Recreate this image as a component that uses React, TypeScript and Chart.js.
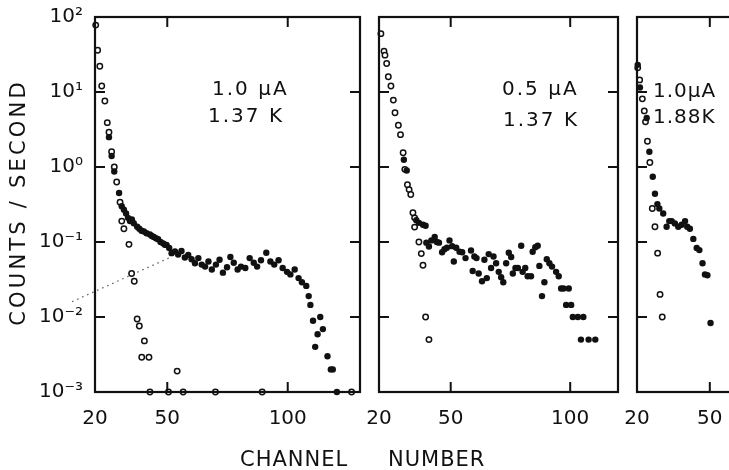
import React, { useEffect, useRef } from "react";
import { Chart, registerables } from "chart.js";

Chart.register(...registerables);

const FONT = "'DejaVu Sans', 'Liberation Sans', sans-serif";
const INK = "#111111";

// ---- axis ticks ----
const yTickExps = [-3, -2, -1, 0, 1, 2];
const yTickLabels = ["10⁻³", "10⁻²", "10⁻¹", "10⁰", "10¹", "10²"];
const xTickValues = [20, 50, 100];
const xInnerTicks = [50, 100];
const yAxisTitle = "COUNTS / SECOND";
const xAxisWords = ["CHANNEL", "NUMBER"];

// ---- panel 1 : 1.0 uA, 1.37 K ----
const p1Notes = ["1.0 μA", "1.37 K"];
const p1OpenCh = [20.3, 21.1, 22.0, 22.8, 24.1, 25.1, 25.8, 26.9, 28.0, 29.0, 30.4, 31.1, 32.0, 34.1, 35.2, 36.3, 37.5, 38.4, 39.4, 40.5, 42.4, 42.8, 50.5, 54.1, 56.6, 70.0, 89.4, 126.5];
const p1OpenRate = [78, 36, 22, 12, 7.6, 3.9, 2.9, 1.6, 1.0, 0.63, 0.34, 0.19, 0.15, 0.093, 0.038, 0.03, 0.0094, 0.0076, 0.0029, 0.0048, 0.0029, 0.001, 0.001, 0.0019, 0.001, 0.001, 0.001, 0.001];
const p1FilledCh = [25.8, 26.9, 28.0, 30.0, 31.1, 32.0, 32.9, 33.7, 34.5, 35.3, 36.1, 37.5, 38.4, 39.3, 40.3, 41.4, 42.8, 43.6, 44.4, 45.3, 46.2, 47.2, 48.3, 49.0, 49.7, 50.8, 51.8, 53.2, 54.5, 55.9, 57.3, 58.7, 60.1, 61.5, 62.9, 64.3, 65.7, 67.1, 68.5, 70.2, 71.7, 73.1, 74.8, 76.2, 77.6, 79.2, 80.6, 82.4, 84.2, 85.9, 87.3, 88.9, 91.1, 92.8, 94.4, 96.2, 97.9, 99.7, 101.1, 102.9, 104.5, 105.9, 107.7, 108.7, 109.4, 110.5, 111.4, 112.4, 113.5, 114.6, 116.5, 117.9, 118.7, 120.4];
const p1FilledRate = [2.5, 1.4, 0.87, 0.45, 0.3, 0.27, 0.24, 0.21, 0.19, 0.2, 0.178, 0.16, 0.15, 0.141, 0.138, 0.131, 0.126, 0.12, 0.117, 0.112, 0.109, 0.1, 0.096, 0.092, 0.091, 0.083, 0.071, 0.075, 0.068, 0.076, 0.062, 0.067, 0.059, 0.052, 0.061, 0.05, 0.047, 0.055, 0.043, 0.05, 0.058, 0.039, 0.046, 0.063, 0.053, 0.043, 0.047, 0.045, 0.061, 0.053, 0.047, 0.057, 0.072, 0.055, 0.05, 0.057, 0.045, 0.04, 0.037, 0.043, 0.033, 0.029, 0.026, 0.019, 0.0145, 0.0089, 0.004, 0.0059, 0.01, 0.0069, 0.003, 0.002, 0.002, 0.001];
const p1GuideCh = [10.5, 52];
const p1GuideRate = [0.016, 0.064];

// ---- panel 2 : 0.5 uA, 1.37 K ----
const p2Notes = ["0.5 μA", "1.37 K"];
const p2OpenCh = [20.8, 22.1, 22.5, 23.2, 23.9, 25.0, 26.0, 26.7, 28.1, 29.0, 30.1, 30.8, 31.9, 32.6, 33.3, 34.2, 34.9, 34.9, 36.7, 37.7, 38.4, 39.5, 40.9];
const p2OpenRate = [60, 35, 31, 24, 16, 12, 7.8, 5.3, 3.6, 2.7, 1.55, 0.93, 0.58, 0.5, 0.43, 0.245, 0.21, 0.158, 0.1, 0.07, 0.049, 0.01, 0.005];
const p2FilledCh = [30.4, 31.6, 35.6, 36.7, 38.4, 39.5, 39.8, 40.9, 41.9, 43.3, 44.2, 45.1, 46.4, 47.4, 48.4, 49.5, 50.6, 51.3, 52.3, 53.7, 54.8, 56.2, 58.5, 59.2, 59.9, 60.8, 61.7, 63.1, 64.1, 65.1, 65.9, 66.9, 67.9, 69.0, 70.1, 71.1, 72.0, 73.2, 74.3, 75.3, 76.0, 77.1, 78.1, 79.5, 80.1, 81.2, 82.2, 83.6, 84.3, 85.4, 86.4, 87.1, 88.2, 89.2, 90.2, 91.3, 92.4, 94.1, 95.2, 96.2, 97.2, 99.4, 98.3, 100.4, 101.1, 103.2, 105.5, 104.5, 107.7, 110.5];
const p2FilledRate = [1.25, 0.9, 0.195, 0.18, 0.17, 0.165, 0.098, 0.087, 0.105, 0.117, 0.1, 0.098, 0.073, 0.08, 0.084, 0.105, 0.088, 0.055, 0.084, 0.074, 0.073, 0.061, 0.077, 0.041, 0.064, 0.061, 0.038, 0.03, 0.058, 0.033, 0.069, 0.045, 0.064, 0.052, 0.04, 0.034, 0.029, 0.052, 0.072, 0.063, 0.038, 0.045, 0.045, 0.089, 0.04, 0.045, 0.035, 0.035, 0.074, 0.085, 0.089, 0.048, 0.019, 0.029, 0.059, 0.052, 0.047, 0.04, 0.035, 0.024, 0.024, 0.024, 0.0145, 0.0145, 0.01, 0.01, 0.01, 0.005, 0.005, 0.005];

// ---- panel 3 : 1.0 uA, 1.88 K ----
const p3Notes = ["1.0μA", "1.88K"];
const p3OpenCh = [20.3, 21.1, 22.2, 23.0, 23.5, 24.3, 25.3, 26.3, 27.4, 28.5, 29.5, 30.4];
const p3OpenRate = [21, 14.5, 8.1, 5.6, 4.0, 2.2, 1.15, 0.28, 0.16, 0.071, 0.02, 0.01];
const p3FilledCh = [20.3, 21.2, 24.0, 25.1, 26.5, 27.4, 28.4, 29.2, 30.8, 32.2, 33.3, 34.3, 35.6, 37.0, 38.4, 39.8, 40.7, 41.8, 43.2, 44.6, 45.7, 47.0, 48.0, 49.0, 50.3];
const p3FilledRate = [23, 11.5, 4.5, 1.6, 0.74, 0.44, 0.32, 0.28, 0.24, 0.16, 0.19, 0.19, 0.177, 0.16, 0.17, 0.19, 0.16, 0.15, 0.11, 0.083, 0.078, 0.052, 0.037, 0.036, 0.0083];

const zip = (xs: number[], ys: number[]) => xs.map((x, i) => ({ x, y: ys[i] }));

const framePlugin = {
  id: "frame",
  afterDatasetsDraw(chart: any, _args: any, opts: any) {
    const { ctx, chartArea: a, scales } = chart;
    const xs = scales.x;
    const ys = scales.y;
    const L = 10;
    ctx.save();
    ctx.strokeStyle = INK;
    ctx.lineWidth = 2.2;
    ctx.strokeRect(a.left, a.top, a.right - a.left, a.bottom - a.top);
    ctx.lineWidth = 2;
    ctx.beginPath();
    for (const e of yTickExps) {
      if (e === 2 || e === -3) continue;
      const py = ys.getPixelForValue(Math.pow(10, e));
      ctx.moveTo(a.left, py);
      ctx.lineTo(a.left + L, py);
      ctx.moveTo(a.right, py);
      ctx.lineTo(a.right - L, py);
    }
    for (const v of xInnerTicks) {
      if (v <= xs.min || v >= xs.max) continue;
      const px = xs.getPixelForValue(v);
      ctx.moveTo(px, a.top);
      ctx.lineTo(px, a.top + L);
      ctx.moveTo(px, a.bottom);
      ctx.lineTo(px, a.bottom - L);
    }
    ctx.stroke();
    ctx.fillStyle = INK;
    ctx.font = `20px ${FONT}`;
    ctx.textBaseline = "alphabetic";
    ctx.textAlign = "left";
    (ctx as any).letterSpacing = opts.spacing || "0px";
    for (const n of opts.notes || []) {
      ctx.fillText(n.text, a.left + n.dx, a.top + n.dy);
    }
    if (opts.yTitle) {
      ctx.font = `21px ${FONT}`;
      (ctx as any).letterSpacing = "3.2px";
      ctx.translate(20, (a.top + a.bottom) / 2 - 2);
      ctx.rotate(-Math.PI / 2);
      ctx.textAlign = "center";
      ctx.textBaseline = "middle";
      ctx.fillText(opts.yTitle, 0, 0);
    }
    ctx.restore();
  },
};

type PanelSpec = {
  left: number;
  top: number;
  width: number;
  height: number;
  padLeft: number;
  padRight: number;
  xMax: number;
  showY: boolean;
  open: { x: number; y: number }[];
  filled: { x: number; y: number }[];
  guide?: { x: number; y: number }[];
  notes: { text: string; dx: number; dy: number }[];
  spacing: string;
};

const panels: PanelSpec[] = [
  {
    left: 0, top: -7, width: 370, height: 477, padLeft: 0, padRight: 10, xMax: 130, showY: true,
    open: zip(p1OpenCh, p1OpenRate), filled: zip(p1FilledCh, p1FilledRate),
    guide: zip(p1GuideCh, p1GuideRate),
    notes: [{ text: p1Notes[0], dx: 117, dy: 78 }, { text: p1Notes[1], dx: 113, dy: 105 }],
    spacing: "2px",
  },
  {
    left: 350, top: 0, width: 275, height: 470, padLeft: 29, padRight: 7, xMax: 120, showY: false,
    open: zip(p2OpenCh, p2OpenRate), filled: zip(p2FilledCh, p2FilledRate),
    notes: [{ text: p2Notes[0], dx: 123, dy: 78 }, { text: p2Notes[1], dx: 124, dy: 109 }],
    spacing: "2px",
  },
  {
    left: 607, top: 0, width: 153, height: 470, padLeft: 30, padRight: 15, xMax: 64.5, showY: false,
    open: zip(p3OpenCh, p3OpenRate), filled: zip(p3FilledCh, p3FilledRate),
    notes: [{ text: p3Notes[0], dx: 16, dy: 80 }, { text: p3Notes[1], dx: 16, dy: 106 }],
    spacing: "1px",
  },
];

function Panel({ spec }: { spec: PanelSpec }) {
  const ref = useRef<HTMLCanvasElement | null>(null);
  useEffect(() => {
    if (!ref.current) return;
    const datasets: any[] = [
      {
        label: "filled",
        data: spec.filled,
        pointStyle: "circle",
        pointRadius: 3.2,
        pointBorderWidth: 0,
        pointBackgroundColor: INK,
        pointBorderColor: INK,
        showLine: false,
        clip: false,
      },
      {
        label: "open",
        data: spec.open,
        pointStyle: "circle",
        pointRadius: 2.7,
        pointBorderWidth: 1.5,
        pointBackgroundColor: "#ffffff",
        pointBorderColor: INK,
        showLine: false,
        clip: false,
      },
    ];
    if (spec.guide) {
      datasets.push({
        label: "guide",
        data: spec.guide,
        showLine: true,
        borderColor: "#555555",
        borderWidth: 1.2,
        borderDash: [1.5, 4],
        pointRadius: 0,
        clip: false,
      });
    }
    const yScale: any = {
      type: "logarithmic",
      min: 1e-3,
      max: 1e2,
      display: spec.showY,
      afterBuildTicks: (s: any) => {
        s.ticks = yTickExps.map((e) => ({ value: Math.pow(10, e) }));
      },
      grid: { display: false, drawTicks: false },
      border: { display: false },
      ticks: {
        font: { family: FONT, size: 20 },
        color: INK,
        padding: 12,
        callback: (_v: any, i: number) => yTickLabels[i],
      },
    };
    if (spec.showY) {
      yScale.afterFit = (s: any) => {
        s.width = 95;
      };
    }
    const chart = new Chart(ref.current, {
      type: "scatter",
      data: { datasets },
      plugins: [framePlugin],
      options: {
        responsive: false,
        animation: false,
        devicePixelRatio: 1,
        events: [],
        layout: { padding: { top: 17 - spec.top, left: spec.padLeft, right: spec.padRight, bottom: 0 } },
        plugins: {
          legend: { display: false },
          tooltip: { enabled: false },
          frame: { notes: spec.notes, spacing: spec.spacing, yTitle: spec.showY ? yAxisTitle : "" },
        } as any,
        scales: {
          x: {
            type: "linear",
            min: 20,
            max: spec.xMax,
            afterBuildTicks: (s: any) => {
              s.ticks = xTickValues.filter((v) => v <= spec.xMax).map((v) => ({ value: v }));
            },
            afterFit: (s: any) => {
              s.height = 78;
            },
            grid: { display: false, drawTicks: false },
            border: { display: false },
            ticks: {
              font: { family: FONT, size: 20 },
              color: INK,
              padding: 15,
              maxRotation: 0,
              autoSkip: false,
            },
          },
          y: yScale,
        },
      } as any,
    });
    return () => chart.destroy();
  }, [spec]);
  return (
    <canvas
      ref={ref}
      width={spec.width}
      height={spec.height}
      style={{ position: "absolute", left: spec.left, top: spec.top, width: spec.width, height: spec.height }}
    />
  );
}

export default function App() {
  return (
    <div
      style={{
        position: "absolute",
        left: 0,
        top: 0,
        width: 729,
        height: 470,
        overflow: "hidden",
        background: "#ffffff",
      }}
    >
      {panels.map((p, i) => (
        <Panel key={i} spec={p} />
      ))}
      <div
        style={{
          position: "absolute",
          left: 240,
          top: 449,
          fontFamily: FONT,
          fontSize: 21,
          lineHeight: 1,
          letterSpacing: 1,
          color: INK,
          whiteSpace: "pre",
        }}
      >
        <span>{xAxisWords[0]}</span>
        <span style={{ position: "absolute", left: 148 }}>{xAxisWords[1]}</span>
      </div>
    </div>
  );
}
